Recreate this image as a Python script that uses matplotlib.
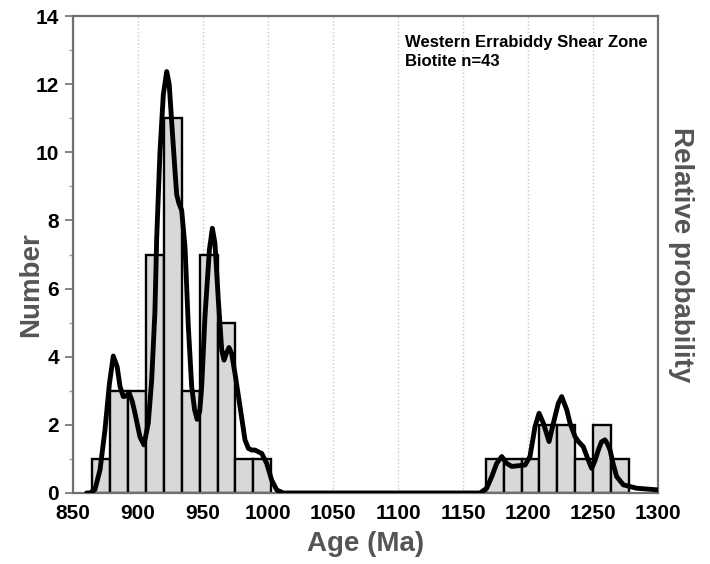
import matplotlib
matplotlib.use("Agg")
import matplotlib.pyplot as plt
from matplotlib.ticker import MultipleLocator

# histogram bins (left edge, Ma) and counts
bin_left = [865, 878.75, 892.5, 906.25, 920, 933.75, 947.5, 961.25, 975, 988.75,
            1167.5, 1181.25, 1195, 1208.75, 1222.5, 1236.25, 1250, 1263.75]
bin_count = [1, 3, 3, 7, 11, 3, 7, 5, 1, 1,
             1, 1, 1, 2, 2, 1, 2, 1]
bin_width = 13.75

# probability curve (scaled to the Number axis)
curve_age = [860.5, 863, 866.9, 870.8, 874.6, 878, 881, 884, 886.2, 888.7, 891, 893.3,
             895.5, 897.7, 901.5, 904.6, 907.9, 910.5, 913, 914.4, 916.9, 919.5, 922.1,
             924, 925.9, 928.5, 929.8, 931.5, 933.6, 936.2, 938.7, 941.3, 943.5, 945.5,
             947.5, 949, 951.5, 954.9, 957.2, 959.2, 961.8, 964.4, 966.2, 968, 970, 972,
             974.6, 978.5, 982.3, 984.9, 987.5, 990, 993, 995.2, 999, 1002.8, 1006.7,
             1011.8, 1100, 1163.1, 1168.2, 1172.1, 1175.9, 1179.8, 1183.6, 1187.5,
             1192.6, 1197.7, 1201.5, 1205.4, 1208.5, 1211.8, 1216.2, 1219.5, 1223.3,
             1225.9, 1229.8, 1232.3, 1236.2, 1239, 1242.5, 1246, 1249, 1251.5, 1254.1,
             1256.5, 1259.2, 1261, 1263.1, 1265.5, 1268.2, 1273.3, 1283.6, 1300]
curve_val = [0, 0, 0.1, 0.68, 1.85, 3.2, 4.02, 3.7, 3.12, 2.83, 2.85, 2.93,
             2.7, 2.34, 1.65, 1.41, 2.05, 3.3, 5.3, 7.5, 10.0, 11.7, 12.37,
             12.0, 10.9, 9.43, 8.75, 8.5, 8.3, 7.2, 4.9, 3.12, 2.45, 2.16,
             2.4, 3.12, 5.17, 7.13, 7.77, 7.33, 5.66, 4.2, 3.9, 4.1, 4.27, 4.1,
             3.51, 2.53, 1.56, 1.31, 1.26, 1.26, 1.2, 1.16, 0.87, 0.38, 0.09,
             0, 0, 0, 0.14, 0.48, 0.87, 1.07, 0.87, 0.78,
             0.8, 0.82, 1.07, 1.95, 2.34, 2.05, 1.51, 2.05, 2.63,
             2.83, 2.44, 2.05, 1.65, 1.5, 1.36, 1.0, 0.72, 0.95, 1.26,
             1.5, 1.56, 1.45, 1.26, 0.85, 0.48, 0.24, 0.14, 0.09]

xticks = [850, 900, 950, 1000, 1050, 1100, 1150, 1200, 1250, 1300]
yticks = [0, 2, 4, 6, 8, 10, 12, 14]

font = ['Liberation Sans', 'DejaVu Sans']
grey = "#555555"
spine = "#707070"

fig = plt.figure(figsize=(7.1, 5.64), dpi=100)
ax = fig.add_axes([0.1028, 0.1259, 0.824, 0.8457])

ax.bar(bin_left, bin_count, width=bin_width, align='edge', color="#d8d8d8",
       edgecolor="black", linewidth=1.7, zorder=2)
ax.plot(curve_age, curve_val, color="black", lw=3.5, solid_capstyle='round',
        solid_joinstyle='round', zorder=3)

ax.set_xlim(850, 1300)
ax.set_ylim(0, 14)
ax.set_xticks(xticks)
ax.set_yticks(yticks)
ax.yaxis.set_minor_locator(MultipleLocator(1))
ax.xaxis.grid(True, linestyle=':', color="#c8c8c8", lw=1, zorder=0)
ax.set_axisbelow(True)

for s in ax.spines.values():
    s.set_color(spine)
    s.set_linewidth(1.6)

ax.tick_params(axis='x', length=0, pad=8)
ax.tick_params(axis='y', which='major', length=6, width=1.2, color=spine, pad=4)
ax.tick_params(axis='y', which='minor', length=3, width=1, color="#a0a0a0")
for lab in ax.get_xticklabels() + ax.get_yticklabels():
    lab.set_family(font)
    lab.set_fontweight('bold')
    lab.set_fontsize(15)

ax.set_xlabel("Age (Ma)", family=font, fontweight='bold', fontsize=20,
              color=grey, labelpad=6)
ax.set_ylabel("Number", family=font, fontweight='bold', fontsize=20, color=grey)
ax.yaxis.set_label_coords(-0.05, 0.436)

ax2 = ax.twinx()
ax2.set_ylim(0, 14)
ax2.set_yticks([])
ax2.set_ylabel("Relative probability", family=font, fontweight='bold',
               fontsize=20, color=grey, rotation=270, labelpad=26)
for s in ax2.spines.values():
    s.set_visible(False)

ax.text(0.567, 0.96, "Western Errabiddy Shear Zone\nBiotite n=43",
        transform=ax.transAxes, family=font, fontweight='bold', fontsize=12,
        va='top', ha='left', linespacing=1.3)

fig.savefig("out.png", dpi=100)
